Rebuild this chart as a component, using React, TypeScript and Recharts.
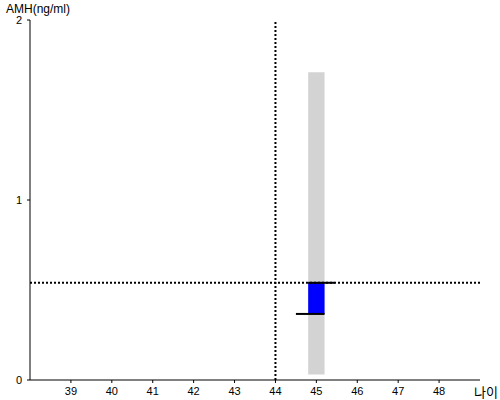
import React from "react";
import {
  ComposedChart,
  Scatter,
  XAxis,
  YAxis,
  ReferenceArea,
  ReferenceLine,
} from "recharts";

// 나이 축 / AMH 축
const xTicks = [39, 40, 41, 42, 43, 44, 45, 46, 47, 48];
const yTicks = [0, 1, 2];

// 기준선 (현재 나이, 현재 AMH)
const myAge = 44;
const myAmh = 0.54;

// 45세 참고 범위 (회색) 와 사분위 박스 (파랑)
const rangeBar = { x1: 44.8, x2: 45.2, low: 0.03, high: 1.71 };
const box = { x1: 44.8, x2: 45.2, low: 0.367, high: 0.54 };

// 박스 위/아래 검은 선
const whiskers = [
  { x1: 44.8, x2: 45.45, y: 0.54 },
  { x1: 44.5, x2: 45.2, y: 0.367 },
];

const anchor = [{ age: 45, amh: 0.54 }];

const tickStyle = { fontSize: 11, fill: "#000", fontFamily: "Liberation Sans, Arial, sans-serif" };

export default function App() {
  return (
    <div style={{ position: "absolute", left: 0, top: 0, width: 500, height: 400, background: "#fff" }}>
      <ComposedChart
        width={500}
        height={400}
        data={anchor}
        margin={{ top: 20, right: 20, left: 0, bottom: 0 }}
      >
        <XAxis
          type="number"
          dataKey="age"
          domain={[38, 49]}
          ticks={xTicks}
          allowDataOverflow
          tickSize={3}
          tickMargin={4}
          height={20}
          stroke="#000"
          tick={tickStyle}
        />
        <YAxis
          type="number"
          dataKey="amh"
          domain={[0, 2]}
          ticks={yTicks}
          allowDataOverflow
          tickSize={3}
          tickMargin={5}
          width={30}
          stroke="#000"
          tick={tickStyle}
        />
        <ReferenceArea
          x1={rangeBar.x1}
          x2={rangeBar.x2}
          y1={rangeBar.low}
          y2={rangeBar.high}
          fill="#d3d3d3"
          fillOpacity={1}
          stroke="none"
        />
        <ReferenceArea
          x1={box.x1}
          x2={box.x2}
          y1={box.low}
          y2={box.high}
          fill="#0000ff"
          fillOpacity={1}
          stroke="none"
        />
        <ReferenceLine x={myAge} stroke="#000" strokeWidth={2} strokeDasharray="2 2" />
        <ReferenceLine y={myAmh} stroke="#000" strokeWidth={2} strokeDasharray="2 2" />
        {whiskers.map((w, i) => (
          <ReferenceLine
            key={i}
            segment={[
              { x: w.x1, y: w.y },
              { x: w.x2, y: w.y },
            ]}
            stroke="#000"
            strokeWidth={2}
          />
        ))}
        <Scatter dataKey="amh" fill="none" shape={() => null} isAnimationActive={false} />
      </ComposedChart>
      <span
        style={{
          position: "absolute",
          left: 6,
          top: 2,
          fontSize: 12,
          fontFamily: "Liberation Sans, Arial, sans-serif",
          color: "#000",
        }}
      >
        AMH(ng/ml)
      </span>
      <span
        style={{
          position: "absolute",
          left: 474,
          top: 385,
          fontSize: 13,
          fontFamily: "Noto Sans CJK KR, sans-serif",
          color: "#000",
          lineHeight: "14px",
        }}
      >
        나이
      </span>
    </div>
  );
}
